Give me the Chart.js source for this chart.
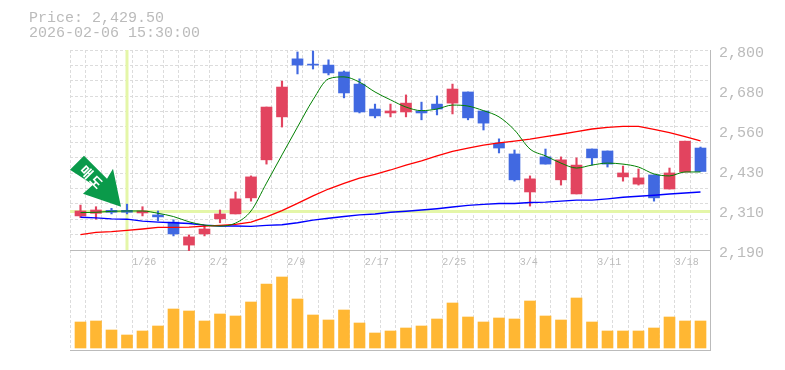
<!DOCTYPE html>
<html>
<head>
<meta charset="utf-8">
<style>
    body { margin: 0; background: #fff; }
    #wrap { position: relative; width: 785px; height: 370px; }
    #info { position: absolute; left: 29px; top: 11px; font: 15px/15px "Liberation Mono", monospace; color: #bbb; white-space: pre; }
</style>
<script src="https://cdn.jsdelivr.net/npm/chart.js@4"></script>
</head>
<body>
<div id="wrap">
    <div id="info">Price: 2,429.50
2026-02-06 15:30:00</div>
    <canvas id="stockChart" width="785" height="370"></canvas>
</div>
<script>
const opens  = [2294,2302,2311,2311,2303,2297,2275,2205,2239,2285,2300,2349,2465,2596,2773,2757,2754,2733,2696,2620,2608,2611,2614,2635,2638,2672,2614,2516,2483,2367,2474,2404,2361,2498,2492,2413,2391,2419,2376,2428,2501];
const closes = [2309,2312,2305,2305,2309,2291,2239,2230,2254,2300,2346,2413,2626,2687,2754,2754,2730,2669,2611,2599,2614,2638,2608,2620,2681,2593,2577,2501,2404,2407,2452,2465,2449,2471,2452,2425,2410,2349,2425,2522,2429.5];
const highs  = [2327,2322,2317,2330,2322,2309,2282,2236,2266,2312,2367,2416,2626,2705,2794,2797,2770,2736,2712,2635,2635,2663,2641,2660,2696,2672,2614,2529,2495,2416,2498,2474,2471,2498,2492,2446,2437,2419,2440,2522,2504];
const lows   = [2289,2284,2300,2300,2294,2279,2233,2188,2233,2273,2300,2339,2452,2565,2727,2742,2724,2654,2608,2593,2596,2596,2587,2602,2605,2587,2556,2486,2400,2324,2452,2388,2361,2449,2443,2400,2388,2339,2376,2428,2429.5];
const volumes = [26,27,18,13,17,22,39,37,27,34,32,46,64,71,49,33,28,38,25,15,17,20,22,29,45,31,26,30,29,47,32,28,50,26,17,17,17,20,31,27,27];
const maGreen = [2304,2305,2308,2309,2309,2302,2292,2276,2266,2263,2272,2309,2394,2480,2565,2648,2712,2718,2702,2672,2648,2626,2615,2620,2632,2629,2615,2596,2556,2498,2477,2455,2440,2449,2455,2452,2443,2422,2416,2428,2428];
const maRed   = [2237,2244,2246,2250,2254,2259,2259,2260,2263,2265,2268,2275,2291,2310,2332,2355,2376,2393,2409,2421,2434,2449,2462,2477,2491,2501,2510,2517,2522,2528,2536,2543,2551,2559,2564,2567,2567,2558,2548,2536,2523];
const maBlue  = [2290,2288,2285,2284,2278,2275,2273,2271,2266,2263,2263,2262,2265,2267,2273,2281,2287,2292,2297,2300,2305,2308,2312,2316,2321,2326,2329,2332,2332,2335,2336,2339,2342,2342,2346,2351,2354,2357,2361,2364,2367];

const dateTickIndex = [4,9,14,19,24,29,34,39];
const dateTickLabels = ['1/26','2/2','2/9','2/17','2/25','3/4','3/11','3/18'];
const priceTicks = [2800,2678,2556,2434,2312,2190];

const markerIndex = 3;
const markerPrice = 2322;
const markerText = '매도';
const levelPrice = 2307.4;

const RED = '#e2445f';
const BLUE = '#4169e1';
const HIGHLIGHT = '#e4f6a8';
const GRID = '#dcdcdc';
const AXIS = '#bbbbbb';

const xMin = -0.677;
const xMax = 40.613;
const gridShift = -0.66;
const priceTop = 2800;
const priceBottom = 1885;   // price scale runs on under the volume pane

const candleColors = closes.map((c, i) => c >= opens[i] ? RED : BLUE);
const toPoints = values => values.map((v, i) => ({ x: i, y: v }));

// the green sell arrow, offsets from the tip in px
const markerPlugin = {
    id: 'marker',
    afterDatasetsDraw(chart) {
        const ctx = chart.ctx;
        const tx = chart.scales.x.getPixelForValue(markerIndex) - 6;
        const ty = chart.scales.y.getPixelForValue(markerPrice);
        const shape = [[-51,-37],[-37,-51],[-14,-28],[-8,-38],[0,0],[-38,-13],[-28,-22]];
        ctx.save();
        ctx.translate(tx, ty);
        ctx.fillStyle = '#0a9a4a';
        ctx.beginPath();
        shape.forEach((p, i) => i ? ctx.lineTo(p[0], p[1]) : ctx.moveTo(p[0], p[1]));
        ctx.closePath();
        ctx.fill();
        ctx.translate(-29, -29);
        ctx.rotate(Math.PI / 4);
        ctx.fillStyle = '#fff';
        ctx.font = 'bold 13px "Noto Sans CJK KR"';
        ctx.letterSpacing = '2px';
        ctx.textAlign = 'center';
        ctx.textBaseline = 'middle';
        ctx.fillText(markerText, 0, 0);
        ctx.restore();
    }
};

new Chart(document.getElementById('stockChart'), {
    data: {
        datasets: [
            { type: 'line', data: [{ x: xMin, y: levelPrice }, { x: xMax, y: levelPrice }], borderColor: HIGHLIGHT, borderWidth: 3, pointRadius: 0, order: 9 },
            { type: 'line', data: [{ x: markerIndex, y: 2190 }, { x: markerIndex, y: priceTop }], borderColor: HIGHLIGHT, borderWidth: 3, pointRadius: 0, order: 9 },
            { type: 'bar', data: toPoints(volumes), yAxisID: 'yVolume', backgroundColor: '#ffb733', barThickness: 11, grouped: false, order: 8 },
            { type: 'bar', data: lows.map((l, i) => ({ x: i, y: [l, highs[i]] })), backgroundColor: candleColors, barThickness: 1.5, grouped: false, order: 5 },
            { type: 'bar', data: opens.map((o, i) => ({ x: i, y: [o, closes[i]] })), backgroundColor: candleColors, barThickness: 11, grouped: false, order: 4 },
            { type: 'line', data: toPoints(maBlue), borderColor: '#0000ff', borderWidth: 1.4, pointRadius: 0, order: 3 },
            { type: 'line', data: toPoints(maRed), borderColor: '#ff0000', borderWidth: 1.3, pointRadius: 0, order: 2 },
            { type: 'line', data: toPoints(maGreen), borderColor: '#008000', borderWidth: 1, pointRadius: 0, cubicInterpolationMode: 'monotone', order: 1 }
        ]
    },
    options: {
        responsive: false,
        animation: false,
        layout: { padding: { left: 70, top: 50, right: 0, bottom: 20 } },
        plugins: { legend: { display: false }, tooltip: { enabled: false } },
        scales: {
            x: {
                type: 'linear',
                position: { y: 2190 },
                offset: false,
                min: xMin,
                max: xMax,
                afterBuildTicks(axis) {
                    axis.ticks = volumes.map((v, k) => ({ value: k + gridShift }));
                },
                grid: { color: GRID, drawTicks: false, offset: false },
                border: { color: AXIS, dash: [3, 2] },
                ticks: {
                    autoSkip: false,
                    maxRotation: 0,
                    align: 'start',
                    padding: 6,
                    color: AXIS,
                    font: { family: '"Liberation Mono"', size: 10 },
                    callback(value) {
                        const at = dateTickIndex.indexOf(Math.round(value - gridShift));
                        return at < 0 ? '' : dateTickLabels[at];
                    }
                }
            },
            y: {
                position: 'right',
                min: priceBottom,
                max: priceTop,
                afterBuildTicks(axis) {
                    axis.ticks = priceTicks.map(v => ({ value: v }));
                },
                afterFit(axis) { axis.width = 75; },
                grid: { drawOnChartArea: false, drawTicks: false },
                border: { color: AXIS },
                ticks: {
                    padding: 9,
                    labelOffset: 3,
                    color: AXIS,
                    font: { family: '"Liberation Mono"', size: 15 },
                    callback: value => (Math.round(value / 10) * 10).toLocaleString('en-US')
                }
            },
            yGrid: {
                display: true,
                position: 'right',
                min: priceBottom,
                max: priceTop,
                afterBuildTicks(axis) {
                    const ticks = [];
                    for (let k = 0; k < 13; k++) ticks.push({ value: priceTop - k * 610 / 13 });
                    axis.ticks = ticks;
                },
                afterFit(axis) { axis.width = 0; },
                grid: { color: GRID, drawTicks: false },
                border: { display: false, dash: [3, 2] },
                ticks: { display: false }
            },
            yVolume: {
                position: 'right',
                min: -2,
                max: 298,
                afterBuildTicks(axis) { axis.ticks = [{ value: -2 }]; },
                afterFit(axis) { axis.width = 0; },
                grid: { color: AXIS, drawTicks: false },
                border: { display: false },
                ticks: { display: false }
            }
        }
    },
    plugins: [markerPlugin]
});
</script>
</body>
</html>
